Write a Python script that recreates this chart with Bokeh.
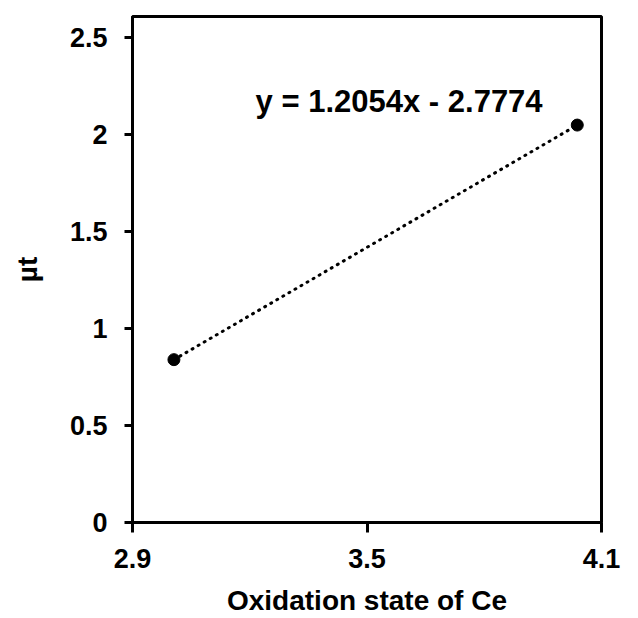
from bokeh.plotting import figure
from bokeh.models import FixedTicker, Range1d, Label
from bokeh.embed import file_html
from bokeh.resources import INLINE

# Data
ox_state = [3.006, 4.038]
mu_t = [0.84, 2.05]
x_ticks = [2.9, 3.5, 4.1]
x_tick_labels = ["2.9", "3.5", "4.1"]
y_ticks = [0, 0.5, 1, 1.5, 2, 2.5]
y_tick_labels = ["0", "0.5", "1", "1.5", "2", "2.5"]
equation = "y = 1.2054x - 2.7774"
eq_pos = (3.215, 2.17)

FONT = "Liberation Sans"

p = figure(width=638, height=618, output_backend="svg", toolbar_location=None,
           x_range=Range1d(2.9, 4.1), y_range=Range1d(0, 2.61),
           min_border_left=132, min_border_right=37, min_border_top=16, min_border_bottom=95)
p.background_fill_color = "white"
p.border_fill_color = "white"
p.xgrid.visible = False
p.ygrid.visible = False
p.outline_line_color = "black"
p.outline_line_width = 3

# trendline (dotted) between points
p.line(ox_state, mu_t, line_color="black", line_width=3, line_dash="1 6", line_cap="round")
p.scatter(ox_state, mu_t, size=12, fill_color="black", line_color="black")

p.add_layout(Label(x=eq_pos[0], y=eq_pos[1], text=equation, text_font=FONT,
                   text_font_size="31px", text_font_style="bold", text_color="black",
                   text_baseline="alphabetic"))

for ax in (p.xaxis[0], p.yaxis[0]):
    ax.axis_line_width = 3
    ax.axis_line_color = "black"
    ax.major_tick_line_width = 3
    ax.major_tick_line_color = "black"
    ax.major_tick_in = 0
    ax.minor_tick_line_color = None
    ax.major_label_text_font = FONT
    ax.major_label_text_font_style = "bold"
    ax.major_label_text_font_size = "27px"
    ax.major_label_text_color = "black"
    ax.axis_label_text_font = FONT
    ax.axis_label_text_font_style = "bold"
    ax.axis_label_text_font_size = "28px"
    ax.axis_label_text_color = "black"

p.xaxis.ticker = FixedTicker(ticks=x_ticks)
p.xaxis.major_label_overrides = {t: l for t, l in zip(x_ticks, x_tick_labels)}
p.xaxis.major_tick_out = 10
p.xaxis.major_label_standoff = 16
p.xaxis.axis_label = "Oxidation state of Ce"
p.xaxis.axis_label_standoff = 14

p.yaxis.ticker = FixedTicker(ticks=y_ticks)
p.yaxis.major_label_overrides = {t: l for t, l in zip(y_ticks, y_tick_labels)}
p.yaxis.major_tick_out = 8
p.yaxis.major_label_standoff = 17
p.yaxis.axis_label = "µt"
p.yaxis.axis_label_standoff = 24

open("out.html", "w").write(file_html(p, INLINE))
